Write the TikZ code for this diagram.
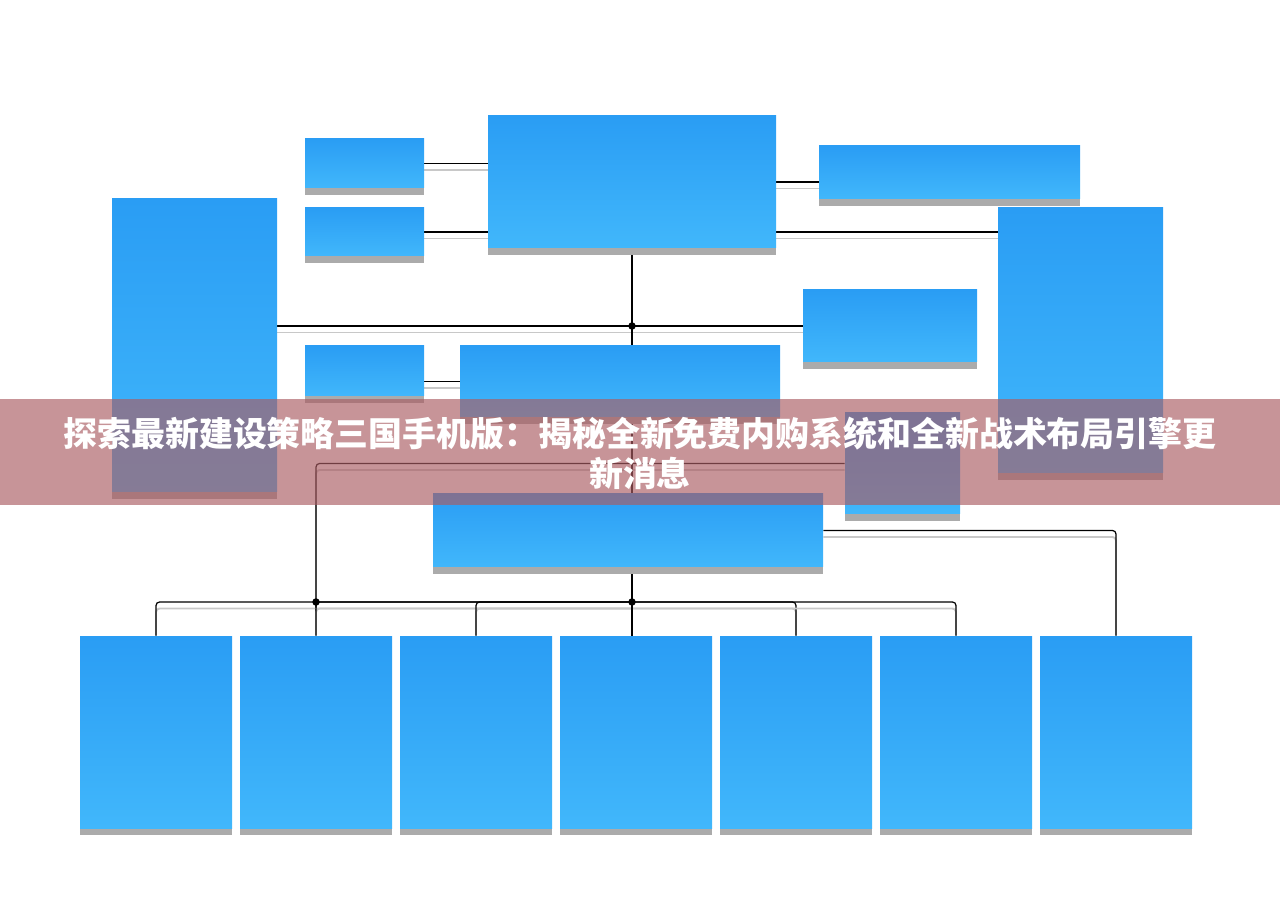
\documentclass[tikz,border=0pt]{standalone}
\usepackage{fontspec}
\newfontfamily\cjk{Noto Sans CJK SC}
\usetikzlibrary{positioning, calc, shadows, backgrounds}

\definecolor{boxtop}{RGB}{42,157,244}
\definecolor{boxbot}{RGB}{65,183,251}
\definecolor{boxshade}{RGB}{171,171,171}
\definecolor{lineshade}{RGB}{200,200,200}
\definecolor{banner}{RGB}{170,93,99}

\begin{document}
\begin{tikzpicture}[
        box/.style={inner sep=0pt, top color=boxtop, bottom color=boxbot,
            drop shadow={shadow xshift=0cm, shadow yshift=-0.14cm, fill=boxshade, opacity=1}},
        link/.style={line width=0.7pt, rounded corners=2pt,
            preaction={draw=lineshade, line width=1.1pt, transform canvas={yshift=-0.13cm}}},
        joint/.style={fill, circle, inner sep=1.5pt}
    ]
        \useasboundingbox (0,0) rectangle (25.6,-18.08);

        \foreach \name/\x/\y/\w/\h in {a1/7.29/-3.27/2.38/0.98, a2/7.29/-4.64/2.38/0.96,
            top/12.64/-3.64/5.76/2.64, r1/18.99/-3.45/5.22/1.06,
            l/3.89/-6.91/3.30/5.86, rt/21.61/-6.81/3.30/5.30,
            m1/17.80/-6.52/3.48/1.44, s1/7.29/-7.42/2.38/1.00,
            c/12.40/-7.63/6.40/1.42, m2/18.05/-9.27/2.30/2.02,
            b/12.56/-10.61/7.80/1.46} {
            \node[box, minimum width=\w cm, minimum height=\h cm] (\name) at (\x,\y) {};
        }

        \foreach \i in {1,...,7} {
            \node[box, minimum width=3.04cm, minimum height=3.84cm] (d\i) at ({3.12+3.2*(\i-1)},-14.64) {};
        }

        \coordinate (bus) at (12.64,-12.04);

        \begin{scope}[on background layer]
            \draw[link] (a1.east) -- (a1.east -| top.west);
            \draw[link] (a2.east) -- (a2.east -| top.west);
            \draw[link] (top.east) -- (top.east -| r1.west);
            \draw[link] (top.east |- a2.east) -- (a2.east -| rt.west);
            \draw[link] (l.east |- m1.west) -- (m1.west);
            \draw[link] (top.south) -- (top.south |- c.north);
            \draw[link] (s1.east |- c.west) -- (c.west);
            \draw[link] (m2.west) -| (d2.north);
            \draw[link] (top.south |- c.south) -- (top.south |- b.north);
            \draw[link] (b.east) -| (d7.north);
            \draw[link] (top.south |- b.south) -- (bus);
            \foreach \i in {1,2,3,5,6} {
                \draw[link] (bus) -| (d\i.north);
            }
            \draw[link] (bus) -- (bus |- d4.north);
        \end{scope}

        \node[joint] (j1) at (top.south |- m1.west) {};
        \node[joint] (j2) at (bus) {};
        \node[joint] (j3) at (d2.north |- bus) {};

        \fill[banner, opacity=0.66] (0,-7.98) rectangle (25.6,-10.10);
        \node[text=white, align=center, font=\cjk\bfseries\fontsize{19.3}{22.8}\selectfont] (title) at (12.8,-9.06)
            {探索最新建设策略三国手机版：揭秘全新免费内购系统和全新战术布局引擎更\\新消息};
\end{tikzpicture}
\end{document}
